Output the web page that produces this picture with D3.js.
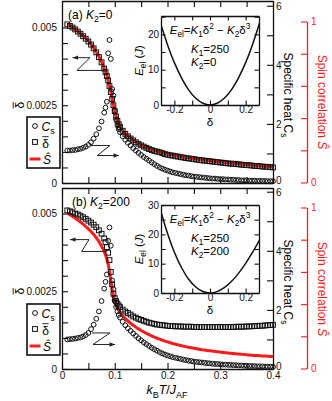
<!DOCTYPE html>
<html>
<head>
<meta charset="utf-8">
<script src="https://cdn.jsdelivr.net/npm/d3@7"></script>
<style>
body { margin: 0; background: #fff; }
svg { display: block; font-family: "Liberation Sans", Arial, sans-serif; }
</style>
</head>
<body>
<script>
// temperature grid k_B T / J_AF (shared by both panels)
var temps = [
    0.01, 0.015, 0.02, 0.025, 0.03, 0.035, 0.04, 0.045, 0.05, 0.055, 0.06, 0.065, 0.07, 0.075, 0.08,
    0.0825, 0.085, 0.0875, 0.09, 0.0925, 0.095, 0.0975, 0.1, 0.1025, 0.105, 0.1075, 0.11,
    0.115, 0.12, 0.125, 0.13, 0.135, 0.14, 0.145, 0.15, 0.155, 0.16,
    0.165, 0.17, 0.175, 0.18, 0.185, 0.19, 0.195, 0.2, 0.205, 0.21,
    0.215, 0.22, 0.225, 0.23, 0.235, 0.24, 0.245, 0.25, 0.255, 0.26,
    0.265, 0.27, 0.275, 0.28, 0.285, 0.29, 0.295, 0.3, 0.305, 0.31,
    0.315, 0.32, 0.325, 0.33, 0.335, 0.34, 0.345, 0.35, 0.355, 0.36,
    0.365, 0.37, 0.375, 0.38, 0.385, 0.39, 0.395, 0.4
];

// panel (a) K2=0
var deltaA = [
    0.00510, 0.00505, 0.00500, 0.00494, 0.00487, 0.00480, 0.00472, 0.00464, 0.00455, 0.00445, 0.00433, 0.00420, 0.00405, 0.00388, 0.00368,
    0.00357, 0.00344, 0.00330, 0.00312, 0.00292, 0.00270, 0.00250, 0.00231, 0.00214, 0.00200, 0.00189, 0.00180,
    0.00168, 0.00158, 0.00150, 0.00143, 0.00137, 0.00131, 0.00126, 0.00121, 0.00117, 0.00113,
    0.00109, 0.00106, 0.00103, 0.00101, 0.00099, 0.00096, 0.00093, 0.00091, 0.00089, 0.00088,
    0.00086, 0.00085, 0.00083, 0.00082, 0.00080, 0.00079, 0.00078, 0.00077, 0.00075, 0.00074,
    0.00073, 0.00072, 0.00071, 0.00070, 0.00069, 0.00068, 0.00067, 0.00066, 0.00065, 0.00064,
    0.00063, 0.00062, 0.00062, 0.00061, 0.00060, 0.00059, 0.00058, 0.00058, 0.00057, 0.00056,
    0.00055, 0.00055, 0.00054, 0.00053, 0.00052, 0.00052, 0.00051, 0.00050
];
var heatA = [
    1.10, 1.10, 1.11, 1.12, 1.14, 1.16, 1.19, 1.23, 1.29, 1.38, 1.50, 1.65, 1.85, 2.08, 2.38,
    2.55, 2.75, 4.39, 4.84, 4.20, 3.18, 2.96, 2.45, 2.15, 1.95, 1.82, 1.72,
    1.58, 1.46, 1.36, 1.27, 1.18, 1.10, 1.02, 0.95, 0.88, 0.82,
    0.76, 0.70, 0.64, 0.58, 0.53, 0.49, 0.45, 0.42, 0.39, 0.36,
    0.34, 0.32, 0.30, 0.28, 0.26, 0.25, 0.23, 0.22, 0.21, 0.20,
    0.19, 0.18, 0.17, 0.16, 0.15, 0.15, 0.14, 0.13, 0.13, 0.12,
    0.12, 0.11, 0.11, 0.10, 0.10, 0.09, 0.09, 0.09, 0.08, 0.08,
    0.08, 0.07, 0.07, 0.07, 0.07, 0.06, 0.06, 0.06
];
var spinA = [
    0.985, 0.975, 0.965, 0.953, 0.940, 0.926, 0.911, 0.896, 0.878, 0.859, 0.836, 0.811, 0.782, 0.749, 0.710,
    0.689, 0.664, 0.637, 0.602, 0.564, 0.521, 0.483, 0.446, 0.413, 0.386, 0.365, 0.347,
    0.324, 0.305, 0.290, 0.276, 0.264, 0.253, 0.243, 0.234, 0.226, 0.218,
    0.210, 0.205, 0.199, 0.195, 0.191, 0.185, 0.180, 0.176, 0.172, 0.170,
    0.166, 0.164, 0.160, 0.158, 0.154, 0.152, 0.151, 0.149, 0.145, 0.143,
    0.141, 0.139, 0.137, 0.135, 0.133, 0.131, 0.129, 0.127, 0.125, 0.124,
    0.122, 0.120, 0.120, 0.118, 0.116, 0.114, 0.112, 0.112, 0.110, 0.108,
    0.106, 0.106, 0.104, 0.102, 0.100, 0.100, 0.098, 0.097
];

// panel (b) K2=200
var deltaB = [
    0.00510, 0.00507, 0.00504, 0.00500, 0.00497, 0.00493, 0.00488, 0.00483, 0.00477, 0.00471, 0.00464, 0.00456, 0.00446, 0.00435, 0.00420,
    0.00408, 0.00392, 0.00374, 0.00350, 0.00312, 0.00272, 0.00242, 0.00228, 0.00218, 0.00210, 0.00204, 0.00199,
    0.00191, 0.00185, 0.00180, 0.00175, 0.00169, 0.00165, 0.00161, 0.00158, 0.00155, 0.00152,
    0.00149, 0.00147, 0.00145, 0.00143, 0.00142, 0.00141, 0.00140, 0.00139, 0.00138, 0.00138,
    0.00137, 0.00137, 0.00137, 0.00136, 0.00136, 0.00136, 0.00136, 0.00135, 0.00135, 0.00135,
    0.00135, 0.00135, 0.00135, 0.00135, 0.00135, 0.00135, 0.00135, 0.00135, 0.00135, 0.00135,
    0.00135, 0.00135, 0.00135, 0.00136, 0.00136, 0.00136, 0.00136, 0.00137, 0.00137, 0.00137,
    0.00138, 0.00138, 0.00139, 0.00139, 0.00140, 0.00141, 0.00141, 0.00142
];
var heatB = [
    1.00, 1.01, 1.02, 1.03, 1.05, 1.07, 1.10, 1.15, 1.22, 1.35, 1.50, 1.70, 1.95, 2.30, 2.72,
    2.95, 3.20, 4.34, 4.79, 4.17, 3.00, 2.70, 2.30, 2.10, 1.95, 1.83, 1.74,
    1.60, 1.48, 1.38, 1.29, 1.20, 1.12, 1.04, 0.97, 0.90, 0.84,
    0.78, 0.72, 0.67, 0.62, 0.57, 0.53, 0.49, 0.46, 0.43, 0.40,
    0.38, 0.36, 0.34, 0.32, 0.30, 0.28, 0.27, 0.25, 0.24, 0.23,
    0.22, 0.21, 0.20, 0.19, 0.18, 0.17, 0.17, 0.16, 0.15, 0.15,
    0.14, 0.14, 0.13, 0.13, 0.12, 0.12, 0.11, 0.11, 0.10, 0.10,
    0.10, 0.09, 0.09, 0.09, 0.08, 0.08, 0.08, 0.07
];
var spinB = [
    0.965, 0.955, 0.945, 0.935, 0.922, 0.910, 0.897, 0.882, 0.867, 0.851, 0.833, 0.812, 0.789, 0.760, 0.727,
    0.706, 0.680, 0.648, 0.605, 0.550, 0.495, 0.452, 0.420, 0.395, 0.375, 0.360, 0.347,
    0.327, 0.310, 0.295, 0.281, 0.269, 0.257, 0.246, 0.236, 0.227, 0.218,
    0.210, 0.202, 0.195, 0.188, 0.182, 0.176, 0.170, 0.165, 0.160, 0.155,
    0.151, 0.147, 0.143, 0.139, 0.135, 0.132, 0.129, 0.126, 0.123, 0.120,
    0.117, 0.115, 0.112, 0.110, 0.108, 0.106, 0.104, 0.102, 0.100, 0.098,
    0.096, 0.094, 0.093, 0.091, 0.090, 0.088, 0.087, 0.085, 0.084, 0.083,
    0.081, 0.080, 0.079, 0.078, 0.077, 0.076, 0.075, 0.074
];

// inset: elastic energy E_el vs delta
var insetDelta = [-0.28, -0.24, -0.2, -0.16, -0.12, -0.08, -0.04, 0, 0.04, 0.08, 0.12, 0.16, 0.2, 0.24, 0.28];
var energyA = [23.5, 17.3, 12.0, 7.7, 4.3, 1.9, 0.5, 0, 0.5, 1.9, 4.3, 7.7, 12.0, 17.3, 23.5];
var energyB = [28.8, 20.6, 13.9, 8.7, 4.7, 2.05, 0.49, 0, 0.47, 1.8, 3.9, 6.7, 10.1, 14.0, 18.3];

var RED = "#ff1a1a";
var FONT = "\"Liberation Sans\", Arial, sans-serif";

var svg = d3.select("body").append("svg")
    .attr("width", 332)
    .attr("height", 401);

var x = d3.scaleLinear().domain([0, 0.4]).range([62, 273]);

/**
 * appends tspans for italic / sub / sup pieces
 */
function rich(txt, parts) {
    var fs = parseFloat(txt.attr("font-size"));
    var off = 0;
    parts.forEach(function (p) {
        var kind = p[1] || "";
        var target = 0;
        if (kind.indexOf("sub") >= 0) target = fs * 0.28;
        if (kind.indexOf("sup") >= 0) target = -fs * 0.4;
        var ts = txt.append("tspan").text(p[0]).attr("dy", target - off);
        off = target;
        if (target !== 0) ts.attr("font-size", fs * 0.72);
        if (kind.indexOf("i") === 0) ts.style("font-style", "italic");
    });
    return txt;
}

// delta with a bar on top, drawn as glyph + short line
function deltaBar(g, cx, baseline, fs) {
    g.append("text").attr("x", cx).attr("y", baseline)
        .attr("text-anchor", "middle").attr("font-size", fs).text("δ");
    g.append("line")
        .attr("x1", cx - fs * 0.26).attr("x2", cx + fs * 0.26)
        .attr("y1", baseline - fs * 0.9).attr("y2", baseline - fs * 0.9)
        .attr("stroke", "#111").attr("stroke-width", 0.9);
}

function styleAxis(g, color) {
    g.attr("font-family", FONT).attr("font-size", 10).style("color", color || "#111");
    g.select(".domain").attr("stroke-width", 1.3);
    g.selectAll(".tick line").attr("stroke-width", 1.1);
}

function arrow(g, pts, color) {
    g.append("path")
        .attr("d", d3.line()(pts))
        .attr("fill", "none")
        .attr("stroke", color)
        .attr("stroke-width", 1);
    var a = pts[pts.length - 1], b = pts[pts.length - 2];
    var ang = Math.atan2(a[1] - b[1], a[0] - b[0]);
    var L = 5.5, W = 2.2;
    var p1 = [a[0] - L * Math.cos(ang) + W * Math.sin(ang), a[1] - L * Math.sin(ang) - W * Math.cos(ang)];
    var p2 = [a[0] - L * Math.cos(ang) - W * Math.sin(ang), a[1] - L * Math.sin(ang) + W * Math.cos(ang)];
    g.append("path").attr("d", "M" + a + "L" + p1 + "L" + p2 + "Z").attr("fill", color);
}

var panels = [
    {
        id: "a", top: 1, bottom: 183, delta: deltaA, heat: heatA, spin: spinA,
        energy: energyA, eMax: 25.2, eTicks: [0, 10, 20], insetTop: 16, insetBottom: 105,
        k2: "0", showX: false,
        leftArrow: [[0.0796, 0.00362], [0.0284, 0.00362], [0.053, 0.00403], [0.020, 0.00403]],
        rightArrow: [[0.053, 1.27], [0.091, 1.27], [0.067, 0.93], [0.108, 0.93]]
    },
    {
        id: "b", top: 188, bottom: 369, delta: deltaB, heat: heatB, spin: spinB,
        energy: energyB, eMax: 30, eTicks: [0, 10, 20, 30], insetTop: 205, insetBottom: 293,
        k2: "200", showX: true,
        leftArrow: [[0.085, 0.00378], [0.0373, 0.00378], [0.0512, 0.00416], [0.0152, 0.00416]],
        rightArrow: [[0.0569, 1.22], [0.091, 1.22], [0.0588, 0.83], [0.1005, 0.83]]
    }
];

panels.forEach(function (p) {
    var g = svg.append("g").attr("class", "panel-" + p.id);
    var yL = d3.scaleLinear().domain([0, 0.005 * (p.bottom - p.top) / 155.5]).range([p.bottom, p.top]);
    var yR = d3.scaleLinear().domain([0, 6 * (p.bottom - p.top) / 177.3]).range([p.bottom, p.top]);
    var yS = d3.scaleLinear().domain([0, 1]).range([p.bottom - 0.5, p.bottom - 161.5]);

    var xTicks = d3.range(0, 0.4001, 0.05);

    // frame with inward ticks
    g.append("g").attr("transform", "translate(0," + p.bottom + ")")
        .call(d3.axisBottom(x).tickValues(xTicks).tickSize(-6).tickSizeOuter(0).tickPadding(3)
            .tickFormat(function (d) {
                if (!p.showX) return "";
                var k = Math.round(d * 100);
                return k % 10 === 0 ? (k === 0 ? "0" : (d).toFixed(1)) : "";
            }))
        .call(styleAxis);
    g.append("g").attr("transform", "translate(0," + p.top + ")")
        .call(d3.axisTop(x).tickValues(xTicks).tickSize(-6).tickSizeOuter(0).tickFormat(""))
        .call(styleAxis);
    g.append("g").attr("transform", "translate(62,0)")
        .call(d3.axisLeft(yL).tickValues(d3.range(0, 0.00501, 0.0005)).tickSize(-6).tickSizeOuter(0).tickPadding(5)
            .tickFormat(function (d) {
                if (Math.abs(d) < 1e-9) return "0";
                if (Math.abs(d - 0.0025) < 1e-9) return "0.0025";
                if (Math.abs(d - 0.005) < 1e-9) return "0.005";
                return "";
            }))
        .call(styleAxis);
    g.append("g").attr("transform", "translate(273,0)")
        .call(d3.axisRight(yR).tickValues([0, 1, 2, 3, 4, 5, 6]).tickSize(-6).tickSizeOuter(0).tickPadding(3)
            .tickFormat(function (d) { return d % 2 === 0 ? d : ""; }))
        .call(styleAxis)
        .call(function (a) {
            // keep the end labels clear of the neighbouring labels
            a.selectAll(".tick text").attr("y", function (d) { return d === 0 ? -3.2 : (d === 6 ? 1 : 0); });
        });
    g.append("g").attr("transform", "translate(307,0)")
        .call(d3.axisRight(yS).tickValues([0, 0.2, 0.4, 0.6, 0.8, 1]).tickSize(-6).tickSizeOuter(0).tickPadding(4)
            .tickFormat(function (d) { return d === 0 || d === 1 ? d : ""; }))
        .call(function (a) { styleAxis(a, RED); });

    // inset
    var ix = d3.scaleLinear().domain([-0.275, 0.275]).range([161, 259]);
    var iy = d3.scaleLinear().domain([0, p.eMax]).range([p.insetBottom, p.insetTop]);
    var ig = g.append("g").attr("class", "inset");
    ig.append("rect")
        .attr("x", 161).attr("y", p.insetTop)
        .attr("width", 98).attr("height", p.insetBottom - p.insetTop)
        .attr("fill", "#fff");
    ig.append("clipPath").attr("id", "clip-" + p.id)
        .append("rect")
        .attr("x", 161).attr("y", p.insetTop)
        .attr("width", 98).attr("height", p.insetBottom - p.insetTop);
    ig.append("path")
        .datum(insetDelta.map(function (d, i) { return [d, p.energy[i]]; }))
        .attr("clip-path", "url(#clip-" + p.id + ")")
        .attr("fill", "none")
        .attr("stroke", "#111")
        .attr("stroke-width", 1.5)
        .attr("d", d3.line()
            .x(function (d) { return ix(d[0]); })
            .y(function (d) { return iy(d[1]); })
            .curve(d3.curveCatmullRom));
    var eT = d3.range(0, p.eMax + 0.01, 5);
    var dT = [-0.2, -0.1, 0, 0.1, 0.2];
    ig.append("g").attr("transform", "translate(0," + p.insetBottom + ")")
        .call(d3.axisBottom(ix).tickValues(dT).tickSize(-4.5).tickSizeOuter(0).tickPadding(1)
            .tickFormat(function (d) { return Math.abs(d) < 1e-9 ? "0" : (Math.abs(d - 0.2) < 1e-9 || Math.abs(d + 0.2) < 1e-9 ? d.toFixed(1) : ""); }))
        .call(styleAxis);
    ig.append("g").attr("transform", "translate(0," + p.insetTop + ")")
        .call(d3.axisTop(ix).tickValues(dT).tickSize(-4.5).tickSizeOuter(0).tickFormat(""))
        .call(styleAxis);
    ig.append("g").attr("transform", "translate(161,0)")
        .call(d3.axisLeft(iy).tickValues(eT).tickSize(-4.5).tickSizeOuter(0).tickPadding(2)
            .tickFormat(function (d) { return p.eTicks.indexOf(d) >= 0 ? d : ""; }))
        .call(styleAxis);
    ig.append("g").attr("transform", "translate(259,0)")
        .call(d3.axisRight(iy).tickValues(eT).tickSize(-4.5).tickSizeOuter(0).tickFormat(""))
        .call(styleAxis);
    ig.append("text").attr("x", 210).attr("y", p.insetBottom + 21)
        .attr("text-anchor", "middle").attr("font-size", 11.5).text("δ");
    rich(ig.append("text")
        .attr("transform", "translate(143," + ((p.insetTop + p.insetBottom) / 2) + ") rotate(-90)")
        .attr("text-anchor", "middle").attr("font-size", 11.5),
        [["E", "i"], ["el", "sub"], [" ("], ["J", "i"], [")"]]);
    rich(ig.append("text").attr("x", 210).attr("y", p.insetTop + 18)
        .attr("text-anchor", "middle").attr("font-size", 11.5),
        [["E", "i"], ["el", "sub"], ["="], ["K", "i"], ["1", "sub"], ["δ"], ["2", "sup"], [" − "], ["K", "i"], ["2", "sub"], ["δ"], ["3", "sup"]]);
    rich(ig.append("text").attr("x", 191).attr("y", p.insetTop + 37).attr("font-size", 11.5),
        [["K", "i"], ["1", "sub"], ["=250"]]);
    rich(ig.append("text").attr("x", 191).attr("y", p.insetTop + 49.5).attr("font-size", 11.5),
        [["K", "i"], ["2", "sub"], ["=" + p.k2]]);

    // data
    var dg = g.append("g").attr("class", "data");
    dg.append("path")
        .datum(temps.map(function (t, i) { return [t, p.spin[i]]; }))
        .attr("fill", "none")
        .attr("stroke", RED)
        .attr("stroke-width", 3)
        .attr("d", d3.line()
            .x(function (d) { return x(d[0]); })
            .y(function (d) { return yS(d[1]); }));
    dg.selectAll(".sq")
        .data(temps.map(function (t, i) { return [t, p.delta[i]]; }))
        .join("rect")
        .attr("class", "sq")
        .attr("x", function (d) { return x(d[0]) - 2.4; })
        .attr("y", function (d) { return yL(d[1]) - 2.4; })
        .attr("width", 4.8).attr("height", 4.8)
        .attr("fill", "none").attr("stroke", "#111").attr("stroke-width", 1);
    dg.selectAll(".cs")
        .data(temps.map(function (t, i) { return [t, p.heat[i]]; }))
        .join("circle")
        .attr("class", "cs")
        .attr("cx", function (d) { return x(d[0]); })
        .attr("cy", function (d) { return yR(d[1]); })
        .attr("r", 2.4)
        .attr("fill", "none").attr("stroke", "#111").attr("stroke-width", 1);

    // arrows pointing to the axes
    arrow(g, p.leftArrow.map(function (d) { return [x(d[0]), yL(d[1])]; }), "#222");
    arrow(g, p.rightArrow.map(function (d) { return [x(d[0]), yR(d[1])]; }), "#222");

    // panel label
    rich(g.append("text").attr("x", p.id === "a" ? 68 : 72).attr("y", p.top + 18).attr("font-size", 12),
        [["(" + p.id + ") "], ["K", "i"], ["2", "sub"], ["=" + p.k2]]);

    // legend
    var ly = p.top + 116;
    var lg = g.append("g").attr("class", "legend");
    lg.append("rect").attr("x", 27).attr("y", ly).attr("width", 33).attr("height", 51)
        .attr("fill", "#fff").attr("stroke", "#111").attr("stroke-width", 1.6);
    lg.append("circle").attr("cx", 35).attr("cy", ly + 9).attr("r", 2.4)
        .attr("fill", "none").attr("stroke", "#111");
    rich(lg.append("text").attr("x", 41.5).attr("y", ly + 13.5).attr("font-size", 12),
        [["C", "i"], ["s", "sub"]]);
    lg.append("rect").attr("x", 32.6).attr("y", ly + 22.6).attr("width", 4.8).attr("height", 4.8)
        .attr("fill", "none").attr("stroke", "#111");
    deltaBar(lg, 45.5, ly + 30.5, 12);
    lg.append("line").attr("x1", 29.5).attr("x2", 40.5).attr("y1", ly + 42).attr("y2", ly + 42)
        .attr("stroke", RED).attr("stroke-width", 3);
    lg.append("text").attr("x", 43).attr("y", ly + 47).attr("font-size", 12)
        .style("font-style", "italic").text("Ŝ");

    // axis titles
    var lt = g.append("g").attr("transform", "translate(24," + yL(0.0025) + ") rotate(-90)");
    deltaBar(lt, 0, 0, 12);
    rich(g.append("text")
        .attr("transform", "translate(284," + (p.top + 94) + ") rotate(90)")
        .attr("text-anchor", "middle").attr("font-size", 12),
        [["Specific heat C"], ["s", "sub"]]);
    g.append("text")
        .attr("transform", "translate(318," + (p.top + 101) + ") rotate(90)")
        .attr("text-anchor", "middle").attr("font-size", 12).attr("fill", RED)
        .text("Spin correlation ")
        .append("tspan").style("font-style", "italic").text("Ŝ");
});

// x axis title
rich(svg.append("text").attr("x", 167).attr("y", 394).attr("text-anchor", "middle").attr("font-size", 12.5),
    [["k", "i"], ["B", "sub"], ["T", "i"], ["/"], ["J", "i"], ["AF", "sub"]]);
</script>
</body>
</html>
